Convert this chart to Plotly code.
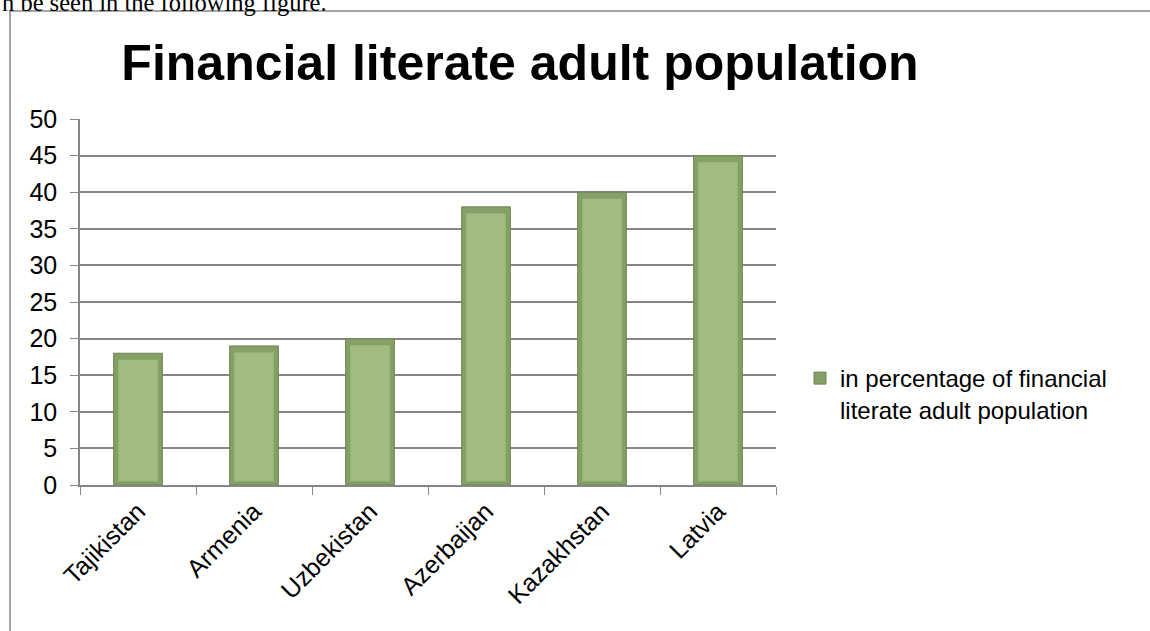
import plotly.graph_objects as go

countries = ["Tajikistan", "Armenia", "Uzbekistan", "Azerbaijan", "Kazakhstan", "Latvia"]
values = [18, 19, 20, 38, 40, 45]
series_name = "in percentage of financial<br>literate adult population"
y_ticks = [0, 5, 10, 15, 20, 25, 30, 35, 40, 45, 50]

W, H = 1150, 631
L, R, T, B = 80, 776, 119, 485

def px_x(p):
    return (p - L) / (R - L)

def px_y(p):
    return (B - p) / (B - T)

# bevel inset (in data units) for the inner, lighter face of each bar
top_inset, bottom_inset = 0.9, 0.5
inner_base = [bottom_inset for _ in values]
inner_h = [v - top_inset - bottom_inset for v in values]

fig = go.Figure()
fig.add_trace(go.Bar(
    x=countries, y=values, name=series_name,
    marker=dict(color="#85a066", line=dict(color="#6d8553", width=1)),
    width=0.42,
))
fig.add_trace(go.Bar(
    x=countries, y=inner_h, base=inner_base, showlegend=False, hoverinfo="skip",
    marker=dict(color="#a1bc81", line=dict(width=0)),
    width=0.34,
))

fig.update_layout(
    width=W, height=H,
    margin=dict(l=L, r=W - R, t=T, b=H - B),
    plot_bgcolor="white", paper_bgcolor="white",
    font=dict(family="Liberation Sans, Arial", color="black"),
    barmode="overlay",
    title=dict(text="<b>Financial literate adult population</b>",
               font=dict(size=50, family="Liberation Sans, Arial", color="black"),
               x=px_x(520), xref="paper", xanchor="center",
               y=1 - 62 / H, yref="container", yanchor="middle"),
    showlegend=True,
    legend=dict(x=px_x(800), y=px_y(394), xanchor="left", yanchor="middle",
                font=dict(size=24, color="black"), bgcolor="rgba(0,0,0,0)",
                itemwidth=30, valign="top"),
)
fig.update_xaxes(showline=True, linecolor="#868686", linewidth=1.5,
                 ticks="outside", ticklen=8, tickcolor="#868686",
                 tickson="boundaries", tickangle=-45,
                 tickfont=dict(size=25, color="black"), showgrid=False)
fig.update_yaxes(range=[0, 50], tickvals=y_ticks, showline=True,
                 linecolor="#868686", linewidth=1.5, ticks="outside",
                 ticklen=8, tickcolor="#868686", gridcolor="#868686",
                 gridwidth=1.5, tickfont=dict(size=25, color="black"),
                 zeroline=False, ticklabelstandoff=8)

# chart frame
fig.add_shape(type="rect", xref="paper", yref="paper",
              x0=px_x(10), y0=px_y(700), x1=px_x(1200), y1=px_y(11),
              line=dict(color="#888888", width=1.5), fillcolor="rgba(0,0,0,0)")

# fragment of surrounding document text
fig.add_annotation(text="n be seen in the following figure.", xref="paper", yref="paper",
                   x=px_x(329), y=px_y(18), xanchor="right", yanchor="bottom",
                   showarrow=False,
                   font=dict(family="Liberation Serif, Times New Roman", size=24.5, color="black"))

fig.write_html("out.html", config={"displayModeBar": False},
               post_script="document.body.style.margin='0';")
